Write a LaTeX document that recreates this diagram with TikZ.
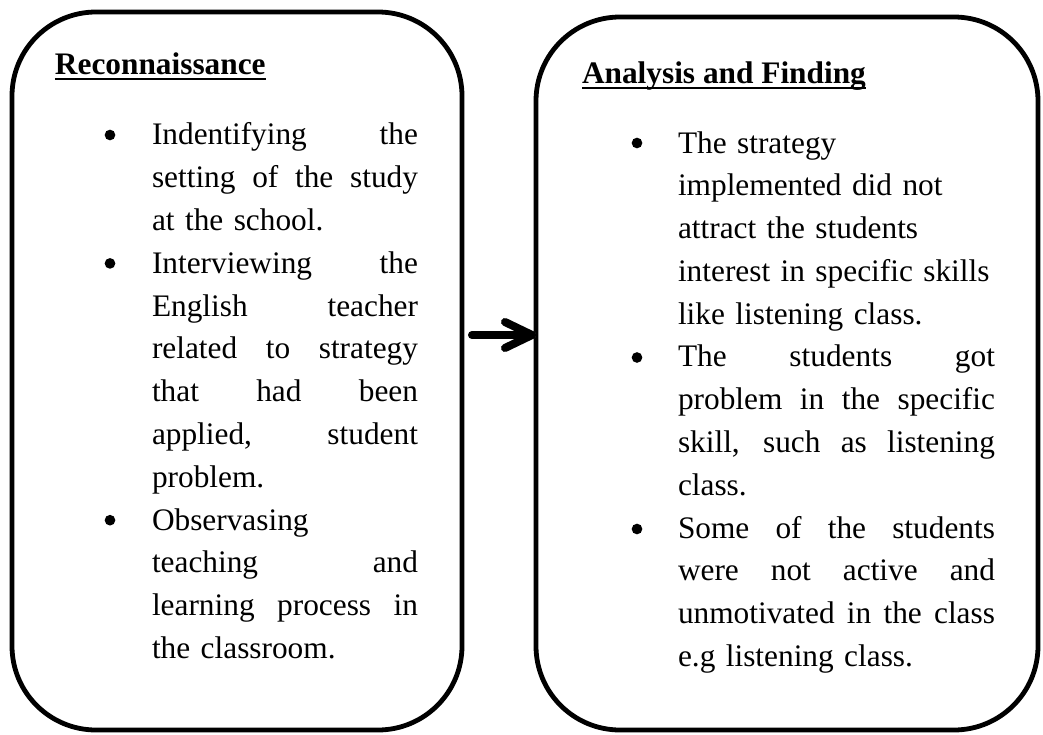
\documentclass[tikz,border=0pt]{standalone}
\usepackage{fontspec}
\setmainfont{Liberation Serif}
\usetikzlibrary{calc}

% underlined bold heading
\newcommand\headline[1]{\setbox0\hbox{\bfseries #1}\rlap{\rule[-4pt]{\wd0}{1.7pt}}\box0}
% a justified line of given width (normal stretchable word spaces)
\newcommand\jl[2]{{\spaceskip=0pt \xspaceskip=0pt \makebox[#1][s]{#2}}}

\begin{document}
\begin{tikzpicture}[x=0.75pt,y=-0.75pt,
  panel/.style={draw, line width=3.6pt, rounded corners=63pt, inner sep=0pt, outer sep=0pt},
  txt/.style={font=\fontsize{23.5pt}{32.1pt}\selectfont, inner sep=0pt, outer sep=0pt},
  body/.style={txt, anchor=base west},
  bul/.style={circle, fill, inner sep=0pt, minimum size=8pt},
  shaft/.style={line width=6pt, line cap=round, line join=round}
]
\useasboundingbox (0,0) rectangle (1043,735);

% panels
\node[panel, minimum width=337.5pt, minimum height=538.5pt] (left) at (237,371) {};
\node[panel, minimum width=376.5pt, minimum height=534.75pt] (right) at (787,373.5) {};

% headings
\node[txt, anchor=base west] (h1) at (55,75) {\headline{Reconnaissance}};
\node[txt, anchor=base west] (h2) at (582,84) {\headline{Analysis and Finding}};

% left panel list
\def\lw{199.5pt}
\node[bul] (lb1) at (110,135) {};
\node[bul] (lb2) at (110,263.4) {};
\node[bul] (lb3) at (110,520.2) {};
\node[body, text width=\lw] (ltext) at (152,145) {%
  \jl{\lw}{Indentifying the}\\
  \jl{\lw}{setting of the study}\\
  at the school.\\
  \jl{\lw}{Interviewing the}\\
  \jl{\lw}{English teacher}\\
  \jl{\lw}{related to strategy}\\
  \jl{\lw}{that had been}\\
  \jl{\lw}{applied, student}\\
  problem.\\
  Observasing\\
  \jl{\lw}{teaching and}\\
  \jl{\lw}{learning process in}\\
  the classroom.};

% right panel list
\def\rw{237.75pt}
\node[bul] (rb1) at (637,143) {};
\node[bul] (rb2) at (637,357.5) {};
\node[bul] (rb3) at (637,529) {};
\node[body, text width=\rw] (rtext) at (678,153) {%
  The strategy\\
  implemented did not\\
  attract the students\\
  interest in specific skills\\
  like listening class.\\
  \jl{\rw}{The students got}\\
  \jl{\rw}{problem in the specific}\\
  \jl{\rw}{skill, such as listening}\\
  class.\\
  \jl{\rw}{Some of the students}\\
  \jl{\rw}{were not active and}\\
  \jl{\rw}{unmotivated in the class}\\
  e.g listening class.};

% arrow between panels
\coordinate (a0) at (472,335);
\coordinate (a1) at (a0 -| right.west);
\begin{scope}[shift={(2,3)}, draw=black!25, opacity=0.5]
  \draw[shaft] (a0) -- ($(a1)+(-4,0)$);
  \draw[shaft] ($(a1)+(-31,-13)$) -- ($(a1)+(-4,0)$) -- ($(a1)+(-31,13)$);
\end{scope}
\draw[shaft] (a0) -- ($(a1)+(-4,0)$);
\draw[shaft] ($(a1)+(-31,-13)$) -- ($(a1)+(-4,0)$) -- ($(a1)+(-31,13)$);
\end{tikzpicture}
\end{document}
